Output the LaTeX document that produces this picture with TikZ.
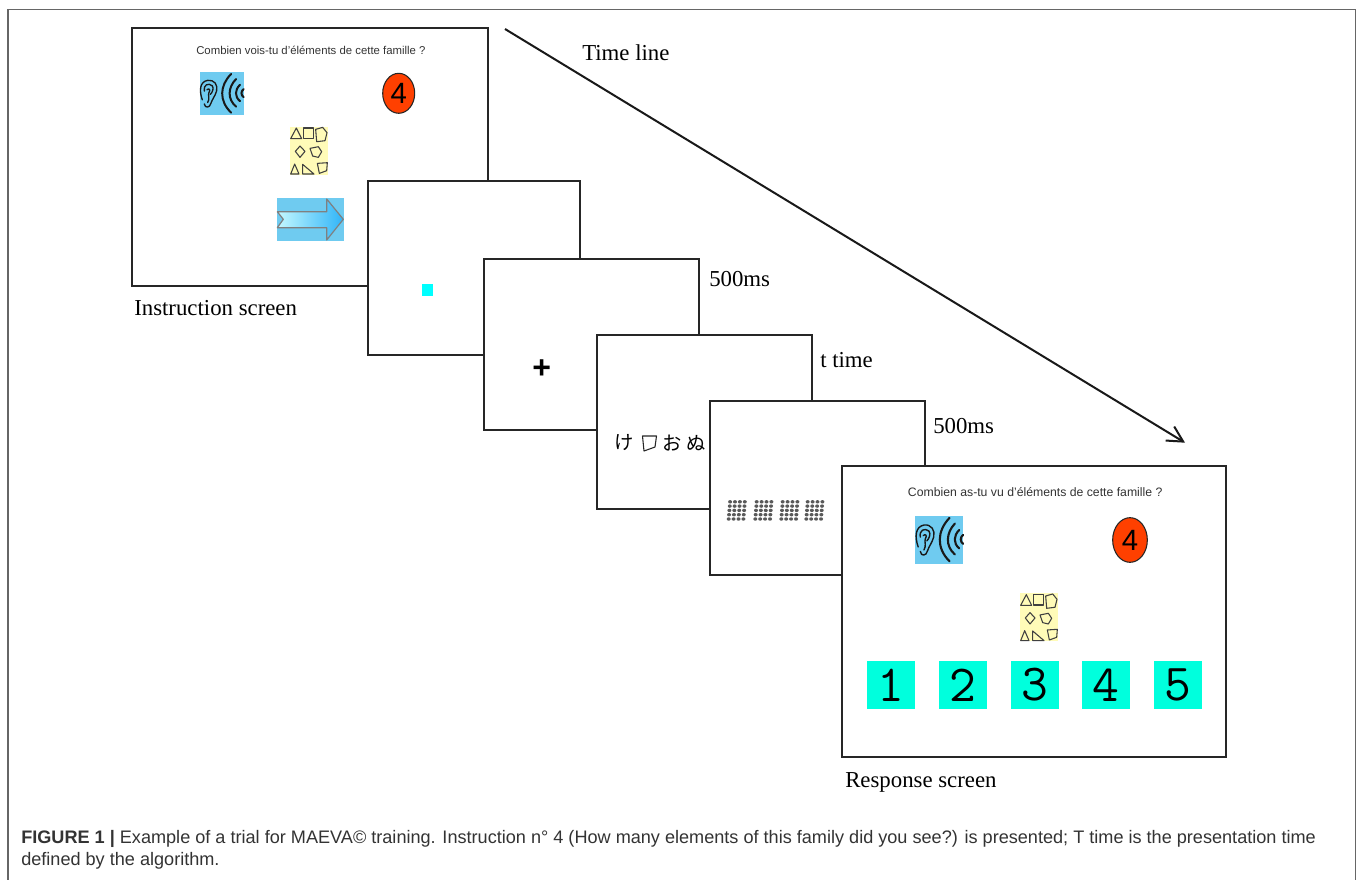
\documentclass[tikz,border=0pt]{standalone}
\usepackage{fontspec}
\usetikzlibrary{arrows.meta,shapes.geometric}
\setmainfont{Liberation Serif}
\setsansfont{Liberation Sans}
\newfontfamily\cjkfont{Noto Sans CJK JP}
\definecolor{skyicon}{HTML}{6FCBF0}
\definecolor{paleicon}{HTML}{FFFBB8}
\definecolor{redfour}{HTML}{FF4000}
\definecolor{cyanbtn}{HTML}{00FFDD}
\definecolor{cuecyan}{HTML}{00FFFF}
\definecolor{arrowlight}{HTML}{C4F8FF}
\definecolor{arrowblue}{HTML}{30B4F8}
\definecolor{captxt}{HTML}{333333}
\tikzset{
  scr/.style={draw=black!85,line width=1.1pt,fill=white,inner sep=0pt,outer sep=0pt},
  lab/.style={anchor=base west,inner sep=0pt,font=\rmfamily\fontsize{17.1}{20}\selectfont},
  ask/.style={anchor=base west,inner sep=0pt,text=captxt,font=\sffamily},
  captext/.style={anchor=base west,inner sep=0pt,text=captxt,font=\sffamily\fontsize{13.58}{16}\selectfont},
  btn/.style={fill=cyanbtn,inner sep=0pt,outer sep=0pt,minimum width=36pt,minimum height=36.2pt,
    font=\ttfamily\fontsize{39}{42}\selectfont,text=black},
  redoval/.style={draw=black!85,line width=0.8pt,fill=redfour,ellipse,inner sep=0pt,text=black,font=\sffamily},
}
\newcommand{\screenbox}[5]{\node[scr,minimum width={(#4-#2)*0.75pt},minimum height={(#5-#3)*0.75pt}] (#1) at ({(#2+#4)/2},{(#3+#5)/2}) {};}
% ear icon: box of 133 x 128 local units
\newcommand{\earicon}[5]{%
\begin{scope}[shift={(#1,#2)},x=#3pt,y=-#4pt,line width=#5pt,draw=black!90,line cap=round,line join=round]
  \fill[skyicon] (0,0) rectangle (133,128);
  \draw (8,82) .. controls (-2,55) and (0,28) .. (24,24) .. controls (44,21) and (56,38) .. (51,56) .. controls (46,72) and (38,80) .. (34,92) .. controls (31,106) and (16,108) .. (14,94);
  \draw (14,56) .. controls (10,38) and (26,30) .. (38,40) .. controls (44,48) and (38,60) .. (32,66);
  \draw (22,52) .. controls (28,46) and (34,52) .. (28,60) .. controls (24,68) and (32,78) .. (24,90);
  \draw[line width=1.5*#5pt] (95,5) .. controls (60,40) and (58,85) .. (95,120);
  \draw[line width=1.5*#5pt] (110,20) .. controls (85,45) and (83,80) .. (110,102);
  \draw[line width=1.5*#5pt] (122,37) .. controls (106,52) and (105,72) .. (122,86);
  \draw[line width=1.5*#5pt] (133,50) .. controls (124,56) and (124,68) .. (133,74);
\end{scope}}
% shapes icon: box of 115 x 144 local units
\newcommand{\shapesicon}[2]{%
\begin{scope}[shift={(#1,#2)},x=0.25pt,y=-0.25pt,line width=0.8pt,draw=black!75,line join=round]
  \fill[paleicon] (0,0) rectangle (115,144);
  \draw (2,36) -- (19,4) -- (35,36) -- cycle;
  \draw (40,4) -- (71,4) -- (71,35) -- (40,35) -- cycle;
  \draw (77,8) -- (98,2) -- (111,18) -- (105,42) -- (80,45) -- cycle;
  \draw (16,74) -- (30,58) -- (45,74) -- (30,92) -- cycle;
  \draw (60,65) -- (85,60) -- (95,75) -- (85,92) -- (68,88) -- cycle;
  \draw (2,142) -- (14,112) -- (27,142) -- cycle;
  \draw (38,113) -- (72,142) -- (38,142) -- cycle;
  \draw (82,110) -- (112,108) -- (110,132) -- (88,140) -- cycle;
\end{scope}}
\begin{document}
\begin{tikzpicture}[x=0.75pt,y=-0.75pt]
\useasboundingbox (0,0) rectangle (1360,880);
\fill[white] (0,0) rectangle (1360,880);
% outer frame, open at the bottom
\draw[draw=black!60,line width=0.9pt] (8,880) -- (8,9.7) -- (1355.5,9.7) -- (1355.5,880);

% instruction screen
\screenbox{sA}{132}{28}{488}{286}
\node[ask,font=\sffamily\fontsize{8.52}{10}\selectfont] (qA) at (196,55) {Combien vois-tu d'éléments de cette famille ?};
\earicon{199.7}{72.3}{0.248}{0.252}{1.0}
\node[redoval,minimum width=24pt,minimum height=30pt,font=\sffamily\fontsize{22}{24}\selectfont] (fourA) at (398.7,93.3) {4};
\shapesicon{290}{126.7}
\fill[skyicon] (277.3,198.3) rectangle (343.7,240.7);
\shade[left color=arrowlight,right color=arrowblue,draw=black!50,line width=0.9pt,line join=round]
  (277.3,211.7) -- (326.7,211.7) -- (326.7,199) -- (343.3,219.3) -- (326.7,240) -- (326.7,227.7) -- (277.3,227.7) -- (283.3,219.3) -- cycle;
\node[lab] (lA) at (134,316) {Instruction screen};

% cue screen
\screenbox{sB}{368}{181}{580}{355}
\fill[cuecyan] (422.3,283.7) rectangle (433.3,295.7);

% fixation screen
\screenbox{sC}{484}{259}{699}{430}
\node[inner sep=0pt,font=\sffamily\bfseries\fontsize{24}{26}\selectfont] (plus) at (541.7,369.3) {+};
\node[lab] (l500a) at (709,287) {500ms};

% stimulus screen
\screenbox{sD}{597}{335}{812}{509}
\node[inner sep=0pt,font=\cjkfont\fontsize{14.5}{16}\selectfont] (g1) at (624.2,443) {け};
\draw[black!85,line width=0.8pt,line join=round] (642.5,436) -- (656.5,436) -- (655,447) -- (644,451) -- cycle;
\node[inner sep=0pt,font=\cjkfont\fontsize{14.5}{16}\selectfont] (g3) at (672.3,443) {お};
\node[inner sep=0pt,font=\cjkfont\fontsize{14.5}{16}\selectfont] (g4) at (695.8,443) {ぬ};
\node[lab] (lt) at (820,368) {t time};

% mask screen
\screenbox{sE}{710}{401}{925}{575}
\foreach \bx in {726.7,753.3,779.3,804.3}{
  \foreach \cl in {0,1,2,3}{
    \foreach \rw in {0,1,2,3,4}{
      \fill[black!65] ({\bx+2+\cl*4.9+(4-\rw)*0.35},{501.8+\rw*4.3}) ellipse [x radius=2.0,y radius=1.7];
    }
  }
}
\node[lab] (l500b) at (933,433) {500ms};

% response screen
\screenbox{sF}{842}{466}{1226}{757}
\node[ask,font=\sffamily\fontsize{9.18}{11}\selectfont] (qF) at (907.7,496.7) {Combien as-tu vu d'éléments de cette famille ?};
\earicon{915.3}{516}{0.27}{0.283}{1.05}
\node[redoval,minimum width=26pt,minimum height=33.5pt,font=\sffamily\fontsize{22}{24}\selectfont] (fourF) at (1130,540) {4};
\shapesicon{1020}{593.3}
\node[btn] (b1) at (891.3,684.8) {1};
\node[btn] (b2) at (963,684.8) {2};
\node[btn] (b3) at (1034.7,684.8) {3};
\node[btn] (b4) at (1106.3,684.8) {4};
\node[btn] (b5) at (1178,684.8) {5};
\node[lab] (lF) at (845,787) {Response screen};

% time line
\coordinate (tlA) at (505,29);
\coordinate (tlB) at (1185,442.7);
\draw[black!90,line width=1.5pt,-{Straight Barb[length=11.6pt,width=12.3pt]}] (tlA) -- (tlB);
\node[lab] (lT) at (582,61) {Time line};

% caption
\node[captext] (c1) at (21,843) {\textbf{FIGURE 1 |} Example of a trial for MAEVA© training. Instruction n° 4 (How many elements of this family did you see?) is presented; T time is the presentation time};
\node[captext] (c2) at (21,865) {defined by the algorithm.};
\end{tikzpicture}
\end{document}
